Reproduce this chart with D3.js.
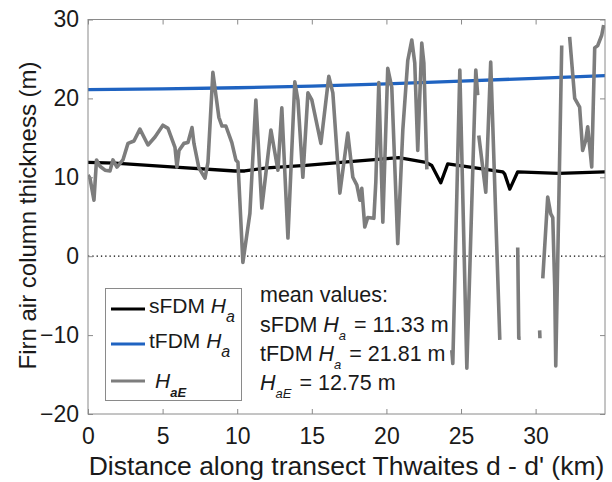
<!DOCTYPE html>
<html><head><meta charset="utf-8">
<script src="https://cdn.jsdelivr.net/npm/d3@7"></script>
<style>
body{margin:0;background:#fff}
text{font-family:"Liberation Sans",Arial,Helvetica,sans-serif;fill:#1a1a1a}
</style>
</head><body>
<svg id="chart" width="612" height="482"></svg>
<script>
// ---- data ----
const xTicks = [0, 5, 10, 15, 20, 25, 30];
const yTicks = [-20, -10, 0, 10, 20, 30];

// sFDM Ha (black)
const sfdmDist = [0, 1.8, 5.83, 9.85, 10.5, 12.0, 14.6, 17.55, 20.83, 22.64, 23.04, 23.64, 24.11, 27.8, 27.93, 28.27, 28.8, 31.55, 34.7];
const sfdmHa   = [11.9, 11.8, 11.3, 10.8, 10.8, 11.2, 11.5, 12.0, 12.5, 11.9, 11.5, 9.3, 11.7, 10.7, 10.4, 8.5, 10.7, 10.5, 10.7];

// tFDM Ha (blue)
const tfdmDist = [0, 5, 10, 15, 20, 25, 30, 34.7];
const tfdmHa   = [21.1, 21.2, 21.35, 21.55, 21.85, 22.2, 22.55, 22.9];

// HaE (gray), null = gap
const haeDist = [0, 0.13, 0.40, 0.57, 0.80, 1.14, 1.47, 1.67, 1.94, 2.34, 2.68, 3.08, 3.48, 4.02, 4.49, 5.02, 5.36, 5.83, 5.96, 6.10,
  6.43, 6.70, 6.97, 7.10, 7.43, 7.84, 8.04, 8.37, 8.77, 8.98, 9.24, 9.64, 9.91, 10.05, 10.38, 10.85, 11.25, 11.65, 12.26, 12.73,
  12.99, 13.40, 13.86, 14.07, 14.40, 14.74, 15.00, 15.61, 16.14, 16.41, 16.88, 17.41, 17.75, 18.02, 18.22, 18.35, 18.55, 18.75, 19.16, 19.29,
  19.49, 19.76, 20.09, 20.36, 20.76, 21.10, 21.43, 21.70, 21.90, 22.10, 22.37, 22.51, 22.71, 23.5,
  24.38, 24.45, 24.92, 25.39, 25.99, 26.12, 26.15,
  26.19, 26.66, 26.99, 27.60, 28.2,
  28.80, 28.87, 29.00, 29.6,
  30.27, 30.29, 30.4,
  30.48, 30.81, 31.01, 31.15, 31.28, 31.35, 31.75, 32.0,
  32.28, 32.62, 32.95, 33.15, 33.36, 33.49, 33.76, 33.96, 34.16, 34.43, 34.56];
const haeVal = [10.3, 9.9, 7.1, 12.2, 11.4, 10.9, 10.8, 12.2, 11.3, 12.2, 14.3, 14.6, 16.1, 14.1, 15.1, 16.6, 16.2, 13.8, 11.3, 13.4,
  14.3, 14.4, 16.3, 14.3, 11.2, 9.9, 11.9, 23.3, 17.6, 16.5, 16.5, 14.4, 12.2, 11.9, -0.8, 5.4, 19.8, 6.1, 16.0, 10.9,
  18.8, 2.3, 22.1, 19.8, 10.0, 20.7, 19.8, 14.3, 22.8, 20.7, 8.0, 15.6, 10.0, 9.0, 7.1, 8.6, 3.7, 4.9, 4.8, 9.4,
  22.0, 4.3, 23.8, 21.4, 1.6, 16.0, 24.8, 27.4, 24.5, 13.4, 27.0, 24.5, 11.0, null,
  -11.9, -13.6, 23.6, -14.2, 23.6, 20.4, null,
  15.3, 8.1, 24.6, -10.6, null,
  1.1, -10.4, -10.4, null,
  -9.4, -10.4, null,
  -2.8, 7.5, 5.4, 4.9, -3.9, -13.9, 26.7, null,
  27.8, 20.0, 18.9, 13.4, 14.7, 16.4, 11.3, 26.4, 26.7, 28.0, 29.3];

const meanLabels = ["11.33", "21.81", "12.75"];

// ---- layout ----
const svg = d3.select("#chart");
const L = 88, R = 605, T = 19.5, B = 414;
const x = d3.scaleLinear().domain([0, 34.65]).range([L, R]);
const y = d3.scaleLinear().domain([-20, 30]).range([B, T]);
const axisCol = "#8a8a8a";

// zero dotted line
svg.append("line").attr("x1", L).attr("x2", R).attr("y1", y(0)).attr("y2", y(0))
  .attr("stroke", "#000").attr("stroke-width", 1.2).attr("stroke-dasharray", "1.3,3");

svg.append("clipPath").attr("id", "clp").append("rect")
  .attr("x", L).attr("y", T).attr("width", R - L).attr("height", B - T);

const line = d3.line().defined(d => d[1] != null).x(d => x(d[0])).y(d => y(d[1]));
const g = svg.append("g").attr("clip-path", "url(#clp)");
g.append("path").datum(tfdmDist.map((d, i) => [d, tfdmHa[i]])).attr("d", line)
  .attr("fill", "none").attr("stroke", "#1f63c1").attr("stroke-width", 3.3);
g.append("path").datum(sfdmDist.map((d, i) => [d, sfdmHa[i]])).attr("d", line)
  .attr("fill", "none").attr("stroke", "#000").attr("stroke-width", 3.3).attr("stroke-linejoin", "round");
g.append("path").datum(haeDist.map((d, i) => [d, haeVal[i]])).attr("d", line)
  .attr("fill", "none").attr("stroke", "#7d7d7d").attr("stroke-width", 3.6).attr("stroke-linejoin", "round");

// axes
const ax = svg.append("g");
ax.append("rect").attr("x", L).attr("y", T).attr("width", R - L).attr("height", B - T)
  .attr("fill", "none").attr("stroke", axisCol).attr("stroke-width", 1);
const axB = d3.axisBottom(x).tickValues(xTicks).tickSizeInner(-5).tickSizeOuter(0).tickPadding(14);
const axT = d3.axisTop(x).tickValues(xTicks).tickSizeInner(-5).tickSizeOuter(0).tickFormat("");
const axL = d3.axisLeft(y).tickValues(yTicks).tickSizeInner(-5).tickSizeOuter(0).tickPadding(9);
const axR = d3.axisRight(y).tickValues(yTicks).tickSizeInner(-5).tickSizeOuter(0).tickFormat("");
function style(sel) {
  sel.select(".domain").remove();
  sel.selectAll(".tick line").attr("stroke", axisCol);
  sel.selectAll(".tick text").attr("font-size", 23).attr("fill", "#1a1a1a")
    .attr("font-family", '"Liberation Sans",Arial,sans-serif');
}
ax.append("g").attr("transform", `translate(0,${B})`).call(axB).call(style);
ax.append("g").attr("transform", `translate(0,${T})`).call(axT).call(style);
ax.append("g").attr("transform", `translate(${L},0)`).call(axL).call(style);
ax.append("g").attr("transform", `translate(${R},0)`).call(axR).call(style);

// axis labels
svg.append("text").attr("x", (L + R) / 2 + 0).attr("y", 475).attr("text-anchor", "middle")
  .attr("font-size", 26.5).text("Distance along transect Thwaites d - d' (km)");
svg.append("text").attr("transform", `translate(36,${(48 + 383) / 2}) rotate(-90)`).attr("text-anchor", "middle")
  .attr("font-size", 24).text("Firn air column thickness (m)");

// legend
const lg = svg.append("g");
lg.append("rect").attr("x", 105.5).attr("y", 288.5).attr("width", 136).attr("height", 112)
  .attr("fill", "#fff").attr("stroke", axisCol).attr("stroke-width", 1);
const legItems = [
  {col: "#000", ly: 309, ty: 313, tx: 149, name: "sFDM ", sub: "a", bold: false},
  {col: "#1f63c1", ly: 344, ty: 348, tx: 149, name: "tFDM ", sub: "a", bold: false},
  {col: "#7d7d7d", ly: 381, ty: 388, tx: 155, name: "", sub: "aE", bold: true}
];
legItems.forEach(it => {
  lg.append("line").attr("x1", 111).attr("x2", 145).attr("y1", it.ly).attr("y2", it.ly)
    .attr("stroke", it.col).attr("stroke-width", 3);
  const t = lg.append("text").attr("x", it.tx).attr("y", it.ty).attr("font-size", 21);
  if (it.name) t.append("tspan").text(it.name);
  t.append("tspan").attr("font-style", "italic").text("H");
  t.append("tspan").attr("font-style", "italic").attr("font-size", it.bold ? 13 : 16)
    .attr("font-weight", it.bold ? "bold" : "normal").attr("dy", 9).text(it.sub);
});

// annotation
const an = svg.append("g").attr("font-size", 21.5);
an.append("text").attr("x", 260).attr("y", 302).text("mean values:");
const annRows = [
  {pre: "sFDM ", sub: "a", val: meanLabels[0], y: 332},
  {pre: "tFDM ", sub: "a", val: meanLabels[1], y: 361},
  {pre: "", sub: "aE", val: meanLabels[2], y: 390}
];
annRows.forEach(r => {
  const t = an.append("text").attr("x", 260).attr("y", r.y);
  if (r.pre) t.append("tspan").text(r.pre);
  t.append("tspan").attr("font-style", "italic").text("H");
  t.append("tspan").attr("font-style", "italic").attr("font-size", 13).attr("dy", 8).text(r.sub);
  t.append("tspan").attr("dy", -8).attr("dx", 2).text(" = " + r.val + " m");
});
</script>
</body></html>
